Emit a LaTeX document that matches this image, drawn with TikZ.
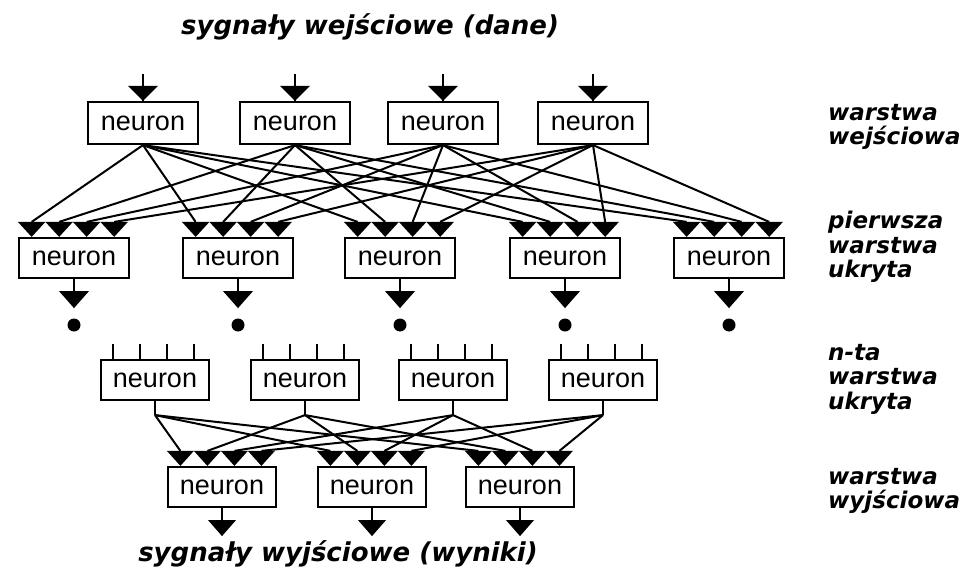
\documentclass[tikz,border=0pt]{standalone}
\usepackage{fontspec}
\setmainfont{Liberation Sans}
\newfontfamily\labfont{DejaVu Sans}[BoldItalicFont={DejaVu Sans Bold Oblique}]

\tikzset{
  neuron/.style={draw, line width=2.2pt, minimum width=110pt, minimum height=42pt,
    inner sep=0pt, font=\fontsize{27}{27}\selectfont},
  conn/.style={line width=2pt},
  lab/.style={anchor=west, align=left, inner sep=0pt,
    font=\labfont\bfseries\itshape\fontsize{23}{24.5}\selectfont},
  title/.style={inner sep=0pt, font=\labfont\bfseries\itshape\fontsize{26}{26}\selectfont},
}

\begin{document}
\begin{tikzpicture}[x=1pt,y=-1pt]
\useasboundingbox (0,0) rectangle (963,575);

% warstwa wejsciowa
\foreach \i/\x in {1/143,2/295,3/443,4/593}{
  \node[neuron] (in\i) at (\x,123) {neuron};
  \coordinate (in\i-top) at (\x,74);
  \draw[conn] (in\i-top) -- (in\i.north);
  \fill (in\i.north) ++(-15,-15) -- ++(30,0) -- ++(-15,15) -- cycle;
}

% pierwsza warstwa ukryta
\foreach \j/\x in {1/74,2/238,3/400,4/565,5/729}{
  \node[neuron, minimum height=40pt] (h\j) at (\x,258) {neuron};
  \foreach \k in {1,...,4}{
    \path (h\j.north west) ++({(\k-0.5)*27.5},-15) coordinate (h\j-\k);
    \fill (h\j-\k) ++(-13.75,0) -- ++(27.5,0) -- ++(-13.75,15) -- cycle;
  }
  \draw[conn] (h\j.south) -- ++(0,14);
  \fill (h\j.south) ++(-15,12) -- ++(30,0) -- ++(-15,17) -- cycle;
  \fill (\x,325) circle (6.5);
}
\foreach \i in {1,...,4}
  \foreach \j in {1,...,5}
    \draw[conn] (in\i.south) -- (h\j-\i);

% n-ta warstwa ukryta
\foreach \i/\x in {1/155,2/305,3/453,4/603}{
  \node[neuron, minimum width=108pt, minimum height=40pt] (n\i) at (\x,380) {neuron};
  \foreach \k in {1,...,4}
    \draw[conn] (n\i.north west) ++({(\k-0.5)*27},0) -- ++(0,-15);
  \draw[conn] (n\i.south) -- ++(0,14) coordinate (n\i-j);
}

% warstwa wyjsciowa
\foreach \j/\x in {1/222,2/372,3/520}{
  \node[neuron, minimum width=108pt, minimum height=40pt] (out\j) at (\x,487) {neuron};
  \foreach \k in {1,...,4}{
    \path (out\j.north west) ++({(\k-0.5)*27},-15) coordinate (out\j-\k);
    \fill (out\j-\k) ++(-13.5,0) -- ++(27,0) -- ++(-13.5,15) -- cycle;
  }
  \draw[conn] (out\j.south) -- ++(0,14);
  \fill (out\j.south) ++(-14,12) -- ++(28,0) -- ++(-14,16) -- cycle;
}
\foreach \i in {1,...,4}
  \foreach \j in {1,2,3}
    \draw[conn] (n\i-j) -- (out\j-\i);

% opisy
\node[title] (tin) at (370,27) {sygnały wejściowe (dane)};
\node[title] (tout) at (338,554) {sygnały wyjściowe (wyniki)};
\node[lab] (l1) at (828,127) {warstwa\\wejściowa};
\node[lab] (l2) at (828,247) {pierwsza\\warstwa\\ukryta};
\node[lab] (l3) at (828,379) {n-ta\\warstwa\\ukryta};
\node[lab] (l4) at (828,491) {warstwa\\wyjściowa};
\end{tikzpicture}
\end{document}
